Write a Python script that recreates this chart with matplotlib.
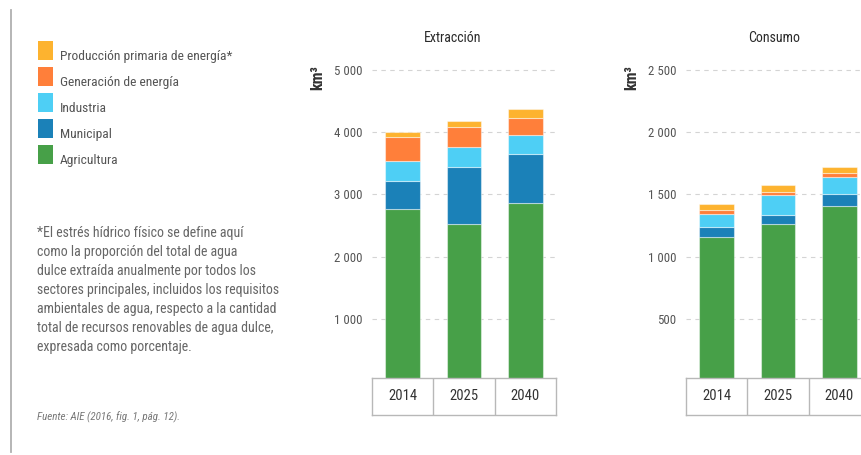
import numpy as np
import matplotlib
matplotlib.use('Agg')
import matplotlib.pyplot as plt
from matplotlib import font_manager
from matplotlib.lines import Line2D
from matplotlib.patches import Rectangle

# data, km3 -- stacked from bottom to top
years = ['2014', '2025', '2040']
sectors = ['Agricultura', 'Municipal', 'Industria', 'Generación de energía',
           'Producción primaria de energía*']
colors = ['#47a048', '#1b81b8', '#4ecff5', '#ff7f3a', '#fdb32f']

extraccion_agricultura = [2760, 2530, 2860]
extraccion_municipal = [460, 915, 785]
extraccion_industria = [315, 315, 310]
extraccion_generacion = [390, 325, 270]
extraccion_produccion = [70, 90, 155]

consumo_agricultura = [1160, 1265, 1405]
consumo_municipal = [75, 73, 100]
consumo_industria = [108, 158, 135]
consumo_generacion = [29, 27, 32]
consumo_produccion = [48, 53, 50]

ext_ticks = [1000, 2000, 3000, 4000, 5000]
ext_tick_labels = ['1 000', '2 000', '3 000', '4 000', '5 000']
con_ticks = [500, 1000, 1500, 2000, 2500]
con_tick_labels = ['500', '1 000', '1 500', '2 000', '2 500']

note_lines = [
    '*El estrés hídrico físico se define aquí',
    'como la proporción del total de agua',
    'dulce extraída anualmente por todos los',
    'sectores principales, incluidos los requisitos',
    'ambientales de agua, respecto a la cantidad',
    'total de recursos renovables de agua dulce,',
    'expresada como porcentaje.',
]
source = 'Fuente: AIE (2016, fig. 1, pág. 12).'

W, H = 862, 455

names = {f.name for f in font_manager.fontManager.ttflist}
if 'Roboto Condensed' in names:
    base_font = 'Roboto Condensed'
elif 'Liberation Sans Narrow' in names:
    base_font = 'Liberation Sans Narrow'
else:
    base_font = 'Roboto'
plt.rcParams['font.family'] = [base_font, 'DejaVu Sans']


def fx(x):
    return x / W


def fy(y):
    return 1 - y / H


def draw_panel(fig, left, series, ticks, tick_labels, ylim, title, title_x, unit_x):
    ax = fig.add_axes([fx(left), fy(378), 184 / W, 318 / H])
    x = np.arange(len(years))
    bottom = np.zeros(len(years))
    for vals, c in zip(series, colors):
        ax.bar(x, vals, 0.57, bottom=bottom, color=c,
               edgecolor=(1, 1, 1, 0.45), linewidth=0.8, zorder=3)
        bottom += np.array(vals)
    ax.set_xlim(-0.5, 2.5)
    ax.set_ylim(ylim)
    ax.set_yticks(ticks)
    ax.set_yticklabels(tick_labels)
    ax.set_xticks([])
    ax.tick_params(axis='y', length=0, pad=7, labelsize=9.3, labelcolor='#555555')
    ax.grid(axis='y', linestyle=(0, (4, 4)), color='#d4d4d4', linewidth=0.8)
    ax.set_axisbelow(True)
    for s in ax.spines.values():
        s.set_visible(False)

    # category boxes under the bars
    tax = fig.add_axes([fx(left), fy(415), 184 / W, 37 / H])
    tax.set_xlim(-0.5, 2.5)
    tax.set_ylim(0, 1)
    tax.set_xticks([])
    tax.set_yticks([])
    for s in tax.spines.values():
        s.set_color('#b8b8b8')
        s.set_linewidth(1.0)
    for b in [0.5, 1.5]:
        tax.axvline(b, color='#b8b8b8', linewidth=1.0)
    for i, y in enumerate(years):
        tax.text(i, 0.5, y, ha='center', va='center', fontsize=10.5,
                 color='#333333')

    fig.text(fx(title_x), fy(37.5), title, ha='center', va='center',
             fontsize=10, color='#2a2a2a')
    fig.text(fx(unit_x), fy(78), 'km³', ha='center', va='center', rotation=90,
             fontsize=11.5, color='#333333', fontweight='bold')
    return ax


fig = plt.figure(figsize=(W / 100, H / 100), dpi=100)
fig.patch.set_facecolor('white')

draw_panel(fig, 372,
           [extraccion_agricultura, extraccion_municipal, extraccion_industria,
            extraccion_generacion, extraccion_produccion],
           ext_ticks, ext_tick_labels, (50, 5160), 'Extracción', 453, 318)
draw_panel(fig, 686,
           [consumo_agricultura, consumo_municipal, consumo_industria,
            consumo_generacion, consumo_produccion],
           con_ticks, con_tick_labels, (25, 2580), 'Consumo', 774, 632)

# left rule
fig.add_artist(Line2D([fx(11), fx(11)], [fy(10), fy(452)], color='#b0b0b0',
                      linewidth=1.3, transform=fig.transFigure))

# legend, top entry first
for i, (name, c) in enumerate(zip(sectors[::-1], colors[::-1])):
    top = 41 + 26 * i
    fig.add_artist(Rectangle((fx(37.5), fy(top + 19)), 15 / W, 19 / H,
                             facecolor=c, edgecolor='none',
                             transform=fig.transFigure))
    fig.text(fx(60), fy(top + 19), name, ha='left', va='baseline',
             fontsize=9.7, color='#555555')

for i, line in enumerate(note_lines):
    fig.text(fx(37), fy(232.7 + 19 * i), line, ha='left', va='center',
             fontsize=10, color='#666666')

fig.text(fx(37), fy(417), source, ha='left', va='center', fontsize=7.9,
         color='#777777', style='italic')

fig.savefig('out.png', dpi=100)
